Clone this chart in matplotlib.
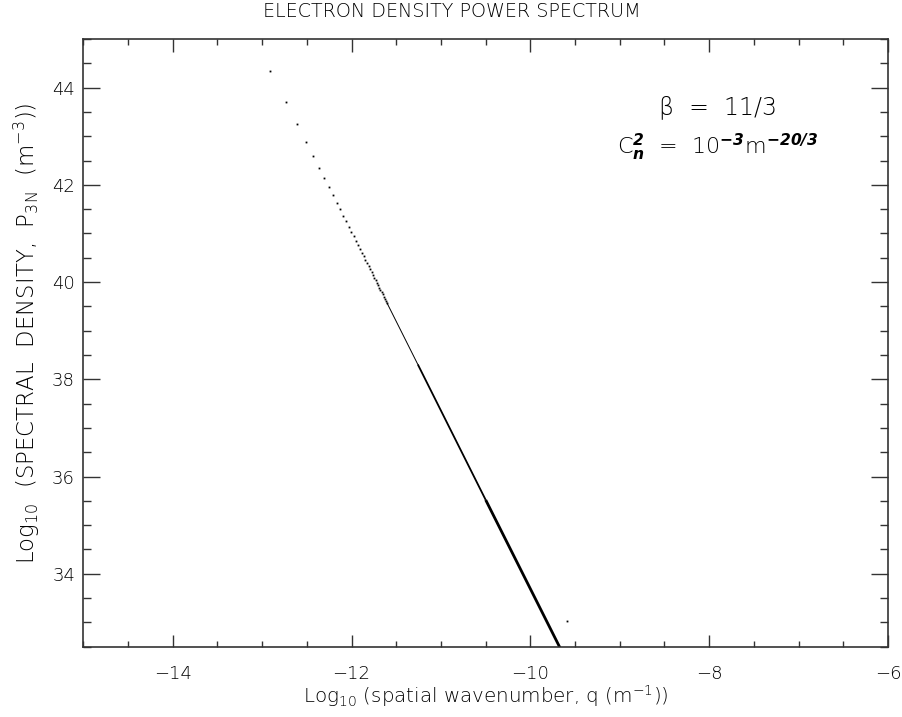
import matplotlib
matplotlib.use("Agg")
import matplotlib.pyplot as plt
from matplotlib.ticker import MultipleLocator

# sparse dots at the low-wavenumber end (log10 q, log10 P)
dot_logq = [-12.907, -12.731, -12.606, -12.509, -12.430, -12.363, -12.305, -12.254,
            -12.208, -12.167, -12.129, -12.094, -12.062, -12.032, -12.004, -11.978,
            -11.953, -11.929, -11.907, -11.886, -11.866, -11.846, -11.828, -11.810,
            -11.793, -11.777, -11.761, -11.746, -11.731, -11.717, -11.703, -11.690,
            -11.677, -11.664, -11.652, -11.640, -11.628, -11.617, -11.606]
dot_logp = [44.350, 43.704, 43.246, 42.890, 42.600, 42.355, 42.142, 41.954,
            41.787, 41.635, 41.496, 41.369, 41.251, 41.141, 41.038, 40.942,
            40.851, 40.765, 40.683, 40.605, 40.531, 40.460, 40.393, 40.328,
            40.265, 40.205, 40.147, 40.091, 40.037, 39.985, 39.934, 39.885,
            39.838, 39.792, 39.747, 39.703, 39.661, 39.619, 39.579]

# dense part, where the dots merge into a line (thin -> medium -> thick)
thin_logq = [-11.606, -11.26]
thin_logp = [39.579, 38.31]
mid_logq = [-11.26, -10.50]
mid_logp = [38.31, 35.52]
thick_logq = [-10.50, -9.65]
thick_logp = [35.52, 32.41]

# lone stray point near the bottom
stray_logq = [-9.59]
stray_logp = [33.03]

plt.rcParams["font.family"] = ["DejaVu Sans"]
plt.rcParams["font.weight"] = "light"
plt.rcParams["axes.titleweight"] = "light"
plt.rcParams["axes.labelweight"] = "light"
plt.rcParams["mathtext.fontset"] = "custom"
plt.rcParams["mathtext.rm"] = "DejaVu Sans:light"
plt.rcParams["mathtext.it"] = "DejaVu Sans:italic"
plt.rcParams["mathtext.bf"] = "DejaVu Sans:italic:bold"
plt.rcParams["mathtext.default"] = "rm"

ink = "black"

fig = plt.figure(figsize=(9.03, 7.17), dpi=100)
ax = fig.add_axes([0.0923, 0.098, 0.8911, 0.8476])

ax.plot(dot_logq, dot_logp, linestyle="none", marker="s", markersize=1.3,
        color="black", markeredgewidth=0)
ax.plot(thin_logq, thin_logp, color="black", linewidth=0.7, solid_capstyle="butt")
ax.plot(mid_logq, mid_logp, color="black", linewidth=1.3, solid_capstyle="butt")
ax.plot(thick_logq, thick_logp, color="black", linewidth=2.0, solid_capstyle="butt")
ax.plot(stray_logq, stray_logp, linestyle="none", marker="s", markersize=1.3,
        color="black", markeredgewidth=0)

ax.set_xlim(-15, -6)
ax.set_ylim(32.5, 45)
ax.xaxis.set_major_locator(MultipleLocator(2))
ax.xaxis.set_minor_locator(MultipleLocator(0.5))
ax.yaxis.set_major_locator(MultipleLocator(2))
ax.yaxis.set_minor_locator(MultipleLocator(0.5))
ax.tick_params(which="both", direction="in", top=True, right=True,
               color="#333333", width=1.0, labelsize=13, labelcolor=ink)
ax.tick_params(axis="x", which="major", length=9, pad=13)
ax.tick_params(axis="x", which="minor", length=4.5)
ax.tick_params(axis="y", which="major", length=12, pad=6)
ax.tick_params(axis="y", which="minor", length=6)
for spine in ax.spines.values():
    spine.set_linewidth(1.2)
    spine.set_color("#333333")

fig.text(0.5, 0.976, "ELECTRON DENSITY POWER SPECTRUM", fontsize=13.8,
         ha="center", va="baseline", color=ink)
ax.set_xlabel(r"Log$_{10}$ (spatial wavenumber, q (m$^{-1}$))", fontsize=14.3,
              color=ink, labelpad=0)
ax.set_ylabel(r"Log$_{10}$  (SPECTRAL  DENSITY,  P$_{3N}$  (m$^{-3}$))", fontsize=16.5,
              color=ink)
ax.yaxis.set_label_coords(-0.052, 0.515)

ax.text(0.789, 0.888, "β  =  11/3", transform=ax.transAxes,
        fontsize=17, ha="center", va="center", color=ink)
ax.text(0.789, 0.822, r"C$_{\mathbf{n}}^{\mathbf{2}}$  =  10$^{\mathbf{-3}}$m$^{\mathbf{-20/3}}$",
        transform=ax.transAxes, fontsize=16, ha="center", va="center", color=ink)

fig.savefig("out.png", dpi=100)
